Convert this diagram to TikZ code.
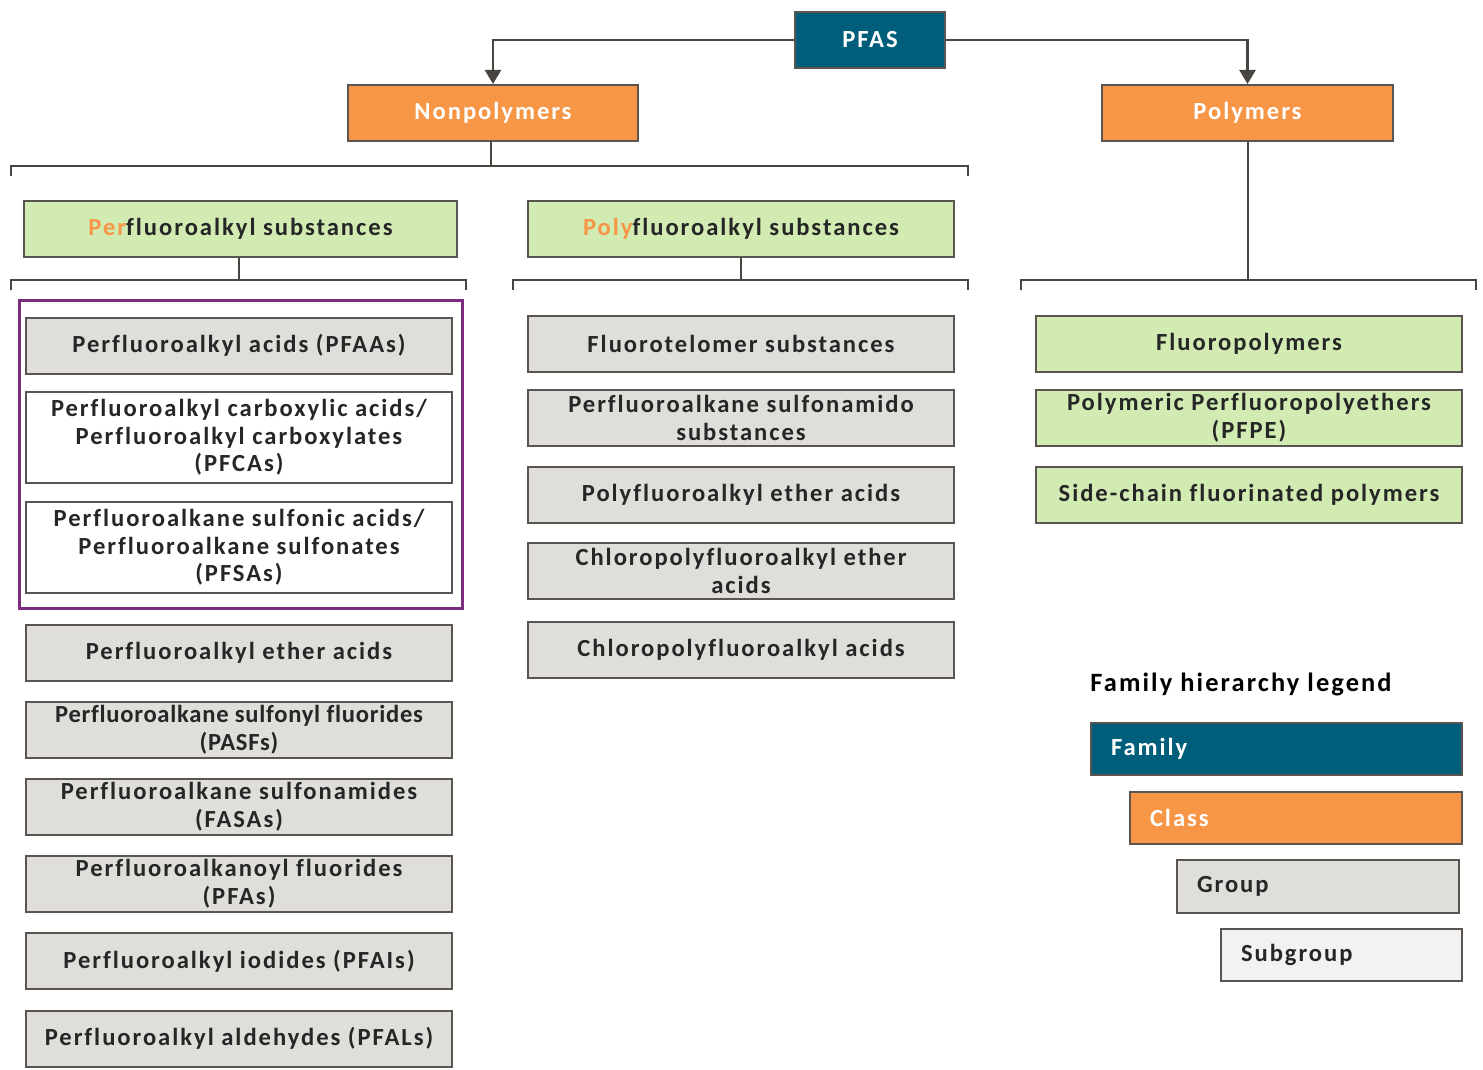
\documentclass[tikz,border=0pt]{standalone}
\usepackage{fontspec}
\setmainfont{Carlito}[LetterSpace=8,Ligatures=NoCommon]
\usepackage{tikz}
\usetikzlibrary{arrows.meta}
\definecolor{famblue}{HTML}{005E7A}
\definecolor{clsorange}{HTML}{F79646}
\definecolor{subgreen}{HTML}{D1EBB3}
\definecolor{grpgray}{HTML}{DFDEDA}
\definecolor{sgrpgray}{HTML}{F2F2F2}
\definecolor{edgegray}{HTML}{5A5550}
\definecolor{linegray}{HTML}{48443F}
\definecolor{txtdark}{HTML}{262626}
\definecolor{pfaapurple}{HTML}{7B2C7F}

\begin{document}
\begin{tikzpicture}[x=0.5pt,y=-0.5pt,
    font=\fontsize{12.3}{13.8}\selectfont\bfseries,
    box/.style={draw=edgegray,line width=1pt,align=center,inner sep=0pt,
        minimum width=213pt,minimum height=28pt,text=txtdark},
    family/.style={box,fill=famblue,text=white},
    class/.style={box,fill=clsorange,text=white,minimum width=145pt},
    subst/.style={box,fill=subgreen},
    group/.style={box,fill=grpgray},
    subgroup/.style={box,fill=white},
    tall/.style={minimum height=45.5pt},
    legbox/.style={draw=edgegray,line width=1pt,minimum height=26pt,inner xsep=10pt,
        inner ysep=0pt,align=left},
    conn/.style={draw=linegray,line width=1.2pt},
    arr/.style={conn,-{Triangle[width=8pt,length=7pt]}}]
    \useasboundingbox (0,0) rectangle (1483,1070);

    % top levels
    \node[family,minimum width=75pt] (pfas) at (870,40) {PFAS};
    \node[class] (nonpoly) at (493,113) {Nonpolymers};
    \node[class,minimum width=145.5pt] (poly) at (1247.5,113) {Polymers};
    \draw[arr] (pfas.west) -| (nonpoly.north);
    \draw[arr] (pfas.east) -| (poly.north);

    \node[subst,minimum width=216.5pt] (perf) at (240.5,229) {\textcolor{clsorange}{Per}fluoroalkyl substances};
    \node[subst] (polyf) at (741,229) {\textcolor{clsorange}{Poly}fluoroalkyl substances};

    % brackets
    \coordinate (b1) at (491,166);
    \coordinate (b1l) at (11,176);
    \coordinate (b1r) at (968,176);
    \draw[conn] (nonpoly.south -| b1) -- (b1);
    \draw[conn] (b1l) |- (b1) -| (b1r);

    \coordinate (b2) at (239,280);
    \coordinate (b2l) at (11,290);
    \coordinate (b2r) at (466,290);
    \draw[conn] (perf.south -| b2) -- (b2);
    \draw[conn] (b2l) |- (b2) -| (b2r);

    \coordinate (b3) at (741,280);
    \coordinate (b3l) at (513,290);
    \coordinate (b3r) at (968,290);
    \draw[conn] (polyf.south) -- (b3);
    \draw[conn] (b3l) |- (b3) -| (b3r);

    \coordinate (b4) at (1248,280);
    \coordinate (b4l) at (1021,290);
    \coordinate (b4r) at (1476,290);
    \draw[conn] (poly.south -| b4) -- (b4);
    \draw[conn] (b4l) |- (b4) -| (b4r);

    % perfluoroalkyl column
    \node[draw=pfaapurple,line width=1.5pt,minimum width=221.5pt,minimum height=154pt] (pfaagrp) at (240.5,454) {};
    \node[group] (pfaa) at (239,345.5) {Perfluoroalkyl acids (PFAAs)};
    \node[subgroup,tall] (pfca) at (239,437.5) {Perfluoroalkyl carboxylic acids/\\Perfluoroalkyl carboxylates\\(PFCAs)};
    \node[subgroup,tall] (pfsa) at (239,547.5) {Perfluoroalkane sulfonic acids/\\Perfluoroalkane sulfonates\\(PFSAs)};
    \node[group] (pfea) at (239,652.5) {Perfluoroalkyl ether acids};
    \node[group,font=\fontsize{12.3}{13.8}\selectfont\bfseries\addfontfeature{LetterSpace=3}] (pasf) at (239,729.5) {Perfluoroalkane sulfonyl fluorides\\(PASFs)};
    \node[group] (fasa) at (239,807) {Perfluoroalkane sulfonamides\\(FASAs)};
    \node[group] (pfaf) at (239,884) {Perfluoroalkanoyl fluorides\\(PFAs)};
    \node[group] (pfai) at (239,961) {Perfluoroalkyl iodides (PFAIs)};
    \node[group] (pfal) at (239,1038.5) {Perfluoroalkyl aldehydes (PFALs)};

    % polyfluoroalkyl column
    \node[group] (ftel) at (741,344) {Fluorotelomer substances};
    \node[group] (fasub) at (741,418) {Perfluoroalkane sulfonamido\\substances};
    \node[group] (pyea) at (741,495) {Polyfluoroalkyl ether acids};
    \node[group] (cpea) at (741,571) {Chloropolyfluoroalkyl ether\\acids};
    \node[group] (cpfa) at (741,650) {Chloropolyfluoroalkyl acids};

    % polymers column
    \node[subst] (fpoly) at (1249,344) {Fluoropolymers};
    \node[subst] (pfpe) at (1249,418) {Polymeric Perfluoropolyethers\\(PFPE)};
    \node[subst] (scfp) at (1249,495) {Side-chain fluorinated polymers};

    % legend
    \node[text=black,font=\fontsize{13.2}{14}\selectfont\bfseries] (legtitle) at (1241,684) {Family hierarchy legend};
    \node[legbox,fill=famblue,text=white,text width=165.5pt] (legfam) at (1276.5,749) {Family};
    \node[legbox,fill=clsorange,text=white,text width=146pt] (legcls) at (1296,818) {Class};
    \node[legbox,fill=grpgray,text=txtdark,text width=121pt,minimum height=26.5pt] (leggrp) at (1318,886.5) {Group};
    \node[legbox,fill=sgrpgray,text=txtdark,text width=100.5pt] (legsub) at (1341.5,955) {Subgroup};
\end{tikzpicture}
\end{document}
